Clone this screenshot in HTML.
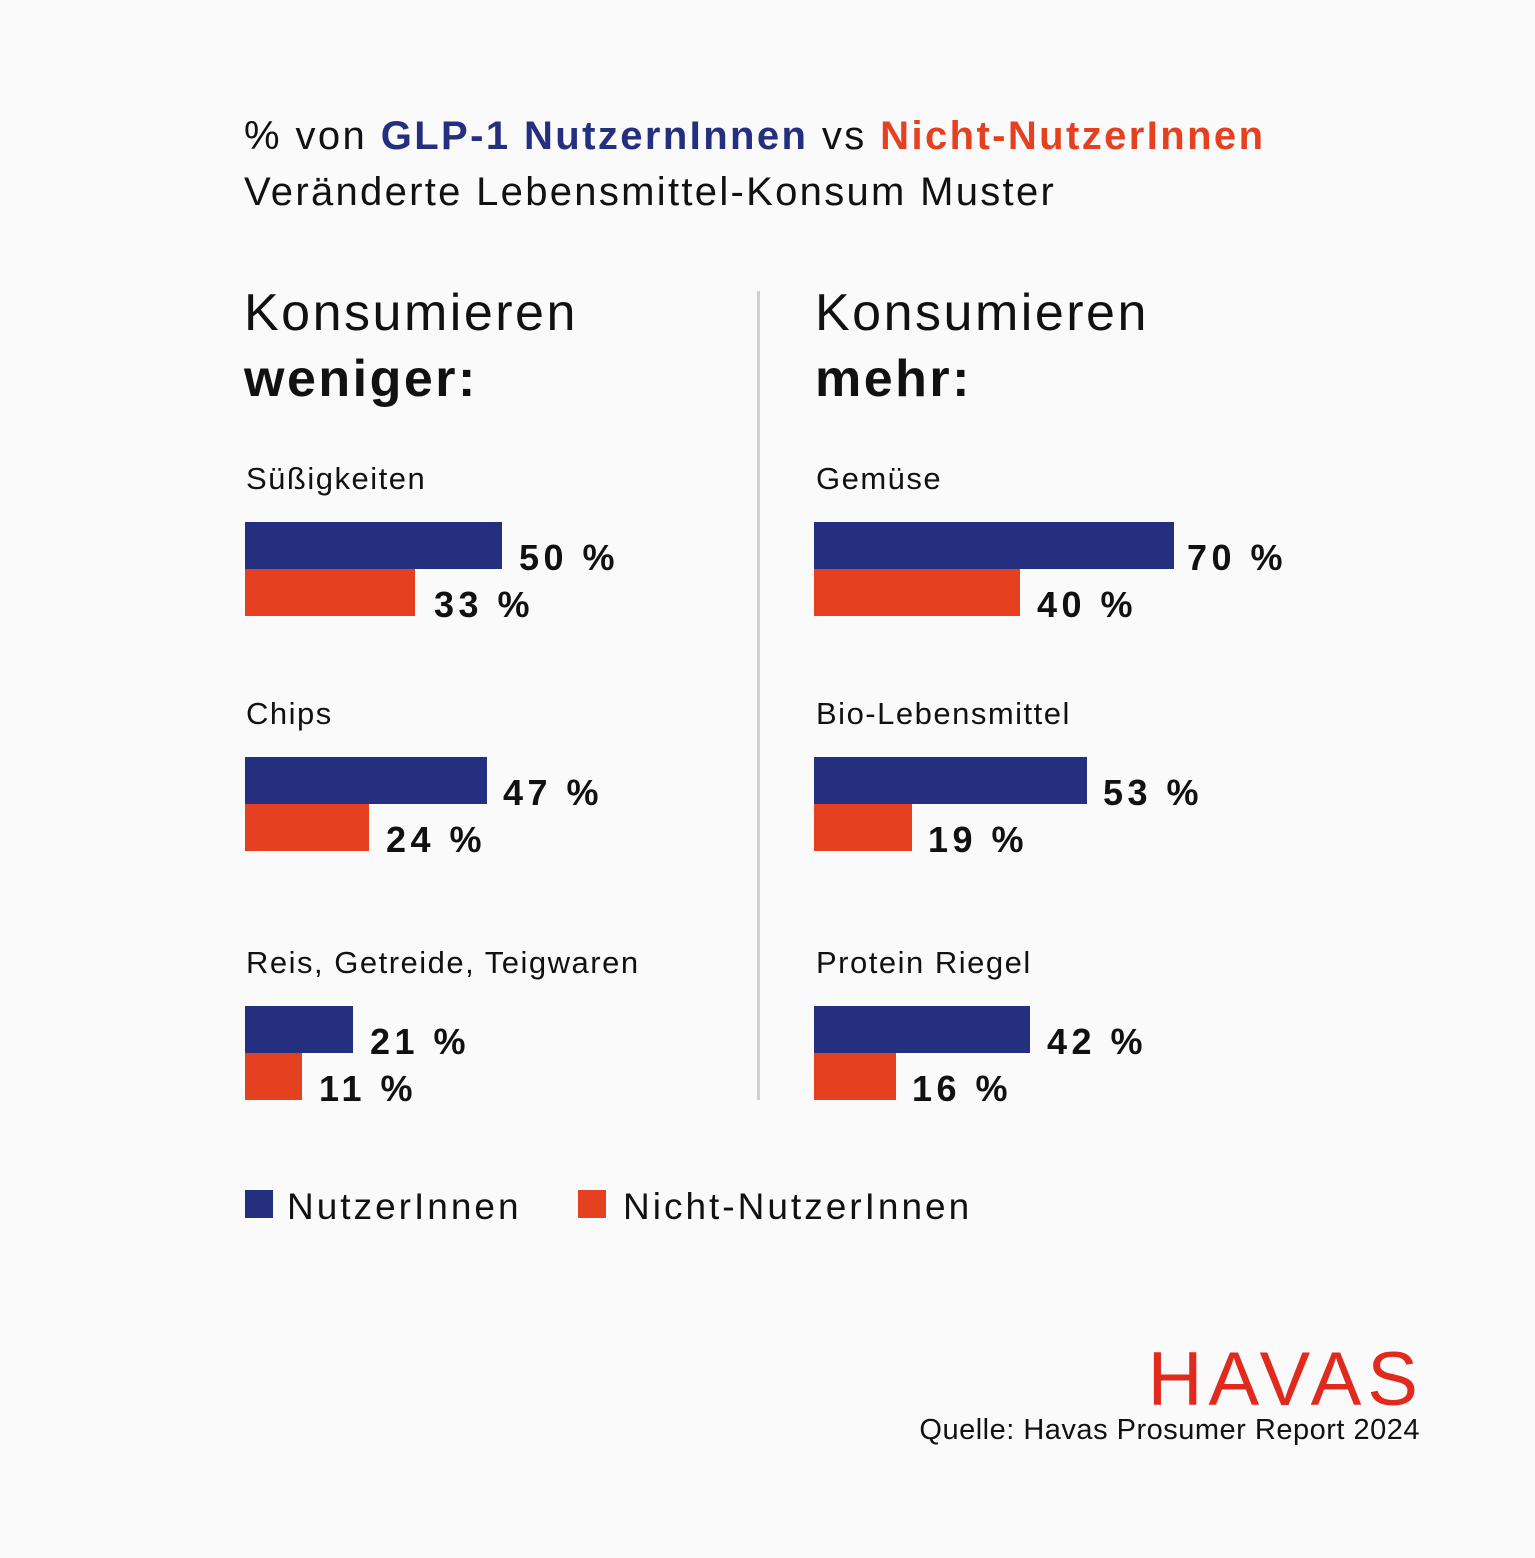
<!DOCTYPE html>
<html><head><meta charset="utf-8"><style>
body{margin:0;width:1535px;height:1558px;background:#fafafa;position:relative;font-family:"Liberation Sans",sans-serif;color:#111;overflow:hidden}
.a{position:absolute;white-space:nowrap;line-height:1}
.b{position:absolute;height:47px}
.bl{background:#252f80}.or{background:#e54121}
.v{position:absolute;font-weight:bold;font-size:36px;letter-spacing:4.5px;line-height:1}
.cat{font-size:31px;letter-spacing:1.5px}
.h{font-size:52px;letter-spacing:2.5px}
</style></head><body>
<div class="a" style="left:244px;top:116px;font-size:40px;letter-spacing:2.4px">% von <b style="color:#252f80">GLP-1 NutzernInnen</b> vs <b style="color:#e54121">Nicht-NutzerInnen</b></div>
<div class="a" style="left:244px;top:172px;font-size:40px;letter-spacing:2.3px">Veränderte Lebensmittel-Konsum Muster</div>

<div class="a h" style="left:244px;top:287px">Konsumieren</div>
<div class="a h" style="left:244px;top:353px;font-weight:bold">weniger:</div>
<div class="a h" style="left:815px;top:287px">Konsumieren</div>
<div class="a h" style="left:815px;top:353px;font-weight:bold">mehr:</div>
<div style="position:absolute;left:757px;top:291px;width:3px;height:809px;background:#d0d0d0"></div>

<div class="a cat" style="left:246px;top:463px">Süßigkeiten</div>
<div class="b bl" style="left:245px;top:522px;width:257px"></div>
<div class="b or" style="left:245px;top:569px;width:170px"></div>
<div class="v" style="left:519px;top:540px">50 %</div>
<div class="v" style="left:434px;top:587px">33 %</div>

<div class="a cat" style="left:246px;top:698px">Chips</div>
<div class="b bl" style="left:245px;top:757px;width:242px"></div>
<div class="b or" style="left:245px;top:804px;width:124px"></div>
<div class="v" style="left:503px;top:775px">47 %</div>
<div class="v" style="left:386px;top:822px">24 %</div>

<div class="a cat" style="left:246px;top:947px">Reis, Getreide, Teigwaren</div>
<div class="b bl" style="left:245px;top:1006px;width:108px"></div>
<div class="b or" style="left:245px;top:1053px;width:57px"></div>
<div class="v" style="left:370px;top:1024px">21 %</div>
<div class="v" style="left:319px;top:1071px">11 %</div>

<div class="a cat" style="left:816px;top:463px">Gemüse</div>
<div class="b bl" style="left:814px;top:522px;width:360px"></div>
<div class="b or" style="left:814px;top:569px;width:206px"></div>
<div class="v" style="left:1187px;top:540px">70 %</div>
<div class="v" style="left:1037px;top:587px">40 %</div>

<div class="a cat" style="left:816px;top:698px">Bio-Lebensmittel</div>
<div class="b bl" style="left:814px;top:757px;width:273px"></div>
<div class="b or" style="left:814px;top:804px;width:98px"></div>
<div class="v" style="left:1103px;top:775px">53 %</div>
<div class="v" style="left:928px;top:822px">19 %</div>

<div class="a cat" style="left:816px;top:947px">Protein Riegel</div>
<div class="b bl" style="left:814px;top:1006px;width:216px"></div>
<div class="b or" style="left:814px;top:1053px;width:82px"></div>
<div class="v" style="left:1047px;top:1024px">42 %</div>
<div class="v" style="left:912px;top:1071px">16 %</div>

<div style="position:absolute;left:245px;top:1190px;width:28px;height:28px;background:#252f80"></div>
<div class="a" style="left:287px;top:1188px;font-size:37px;letter-spacing:3px">NutzerInnen</div>
<div style="position:absolute;left:578px;top:1190px;width:28px;height:28px;background:#e54121"></div>
<div class="a" style="left:623px;top:1188px;font-size:37px;letter-spacing:3px">Nicht-NutzerInnen</div>

<div class="a" style="right:111px;top:1342px;font-size:76px;color:#e02a1e;letter-spacing:6px">HAVAS</div>
<div class="a" style="right:115px;top:1416px;font-size:29px;letter-spacing:0.5px">Quelle: Havas Prosumer Report 2024</div>
</body></html>
